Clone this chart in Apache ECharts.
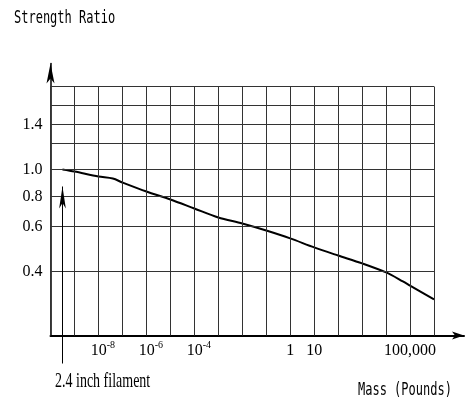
<!DOCTYPE html>
<html><head><meta charset="utf-8">
<script src="https://cdn.jsdelivr.net/npm/echarts@6/dist/echarts.min.js"></script>
<style>html,body{margin:0;padding:0;background:#fff}#c{width:471px;height:398px}</style>
</head><body><div id="c"></div>
<script>
// ---- data ----
const massExponents  = [-9.5, -9, -8, -7.4, -7, -6, -5, -4, -3, -2, -1, 0, 1, 2, 3, 4, 4.7, 5, 6];
const strengthRatios = [1.0, 0.985, 0.948, 0.933, 0.904, 0.837, 0.78, 0.72, 0.66, 0.62, 0.582, 0.547, 0.507, 0.471, 0.436, 0.397, 0.369, 0.356, 0.313];
const xTickExponents = [-8, -6, -4, 0, 1, 5];
const xTickLabels    = ['10^-8', '10^-6', '10^-4', '1', '10', '100,000'];
const yLabelRatios   = [1.4, 1.0, 0.8, 0.6, 0.4];
const yGridRatios    = [0.4, 0.6, 0.8, 1.0, 1.2, 1.4, 1.6, 1.8];
const xGridExponents = [-10, -9, -8, -7, -6, -5, -4, -3, -2, -1, 0, 1, 2, 3, 4, 5, 6];
const filamentExponent = -9.5;
const filamentLabel = '2.4 inch filament';

// ---- non-uniform strength-ratio scale of the original chart (ratio -> axis units) ----
const yScaleRatios = [0.2, 0.4, 0.6, 0.8, 1.0, 1.2, 1.4, 1.6, 1.8];
const yScaleUnits  = [0, 64, 109, 139, 166, 192, 211, 230, 249];
function toU(r) {
  const R = yScaleRatios, U = yScaleUnits;
  let i = 0;
  while (i < R.length - 2 && r > R[i + 1]) i++;
  return U[i] + (r - R[i]) / (R[i + 1] - R[i]) * (U[i + 1] - U[i]);
}
const xMin = xGridExponents[0], xGridMax = xGridExponents[xGridExponents.length - 1];
const yTopGrid = toU(yGridRatios[yGridRatios.length - 1]);

const gridLines = [];
xGridExponents.forEach(x => gridLines.push([{coord: [x, 0]}, {coord: [x, yTopGrid]}]));
yGridRatios.forEach(r => gridLines.push([{coord: [xMin, toU(r)]}, {coord: [xGridMax, toU(r)]}]));

const serif = 'Liberation Serif';
const chart = echarts.init(document.getElementById('c'), null, {renderer: 'canvas'});
const markerBase = {
  silent: true, animation: false, label: {show: false},
  emphasis: {disabled: true}
};
chart.setOption({
  backgroundColor: '#fff',
  animation: false,
  grid: {left: 50.5, top: 63.5, right: 7, bottom: 62.5, containLabel: false, outerBoundsMode: 'none'},
  xAxis: {
    type: 'value', min: xMin, max: 7.25,
    axisLine: {show: true, onZero: false, symbol: ['none', 'arrow'], symbolSize: [6, 12], lineStyle: {color: '#000', width: 2}},
    axisTick: {show: false},
    splitLine: {show: false},
    axisLabel: {
      customValues: xTickExponents, margin: 5,
      formatter: v => {
        const t = xTickLabels[xTickExponents.indexOf(v)] || '';
        if (t.indexOf('^') >= 0) { const p = t.split('^'); return '{sp| }{b|' + p[0] + '}{s|' + p[1] + '}'; }
        return '{b|' + t + '}';
      },
      rich: {
        b: {fontFamily: serif, fontSize: 16, lineHeight: 20, color: '#000'},
        s: {fontFamily: serif, fontSize: 10, lineHeight: 12, verticalAlign: 'top', color: '#000'},
        sp: {width: 9, fontSize: 10}
      }
    }
  },
  yAxis: {
    type: 'value', min: 0, max: 272,
    axisLine: {show: true, onZero: false, symbol: ['none', 'arrow'], symbolSize: [6, 20], lineStyle: {color: '#000', width: 1.5}},
    axisTick: {show: false},
    splitLine: {show: false},
    axisLabel: {
      customValues: yLabelRatios.map(toU), margin: 8,
      fontFamily: serif, fontSize: 16, color: '#000',
      formatter: v => {
        const r = yLabelRatios.find(r => Math.abs(toU(r) - v) < 1e-6);
        return r === undefined ? '' : r.toFixed(1);
      }
    }
  },
  graphic: [
    {type: 'text', x: 14, y: 18.5, scaleY: 1.5, silent: true,
     style: {text: 'Strength Ratio', font: '12px "DejaVu Sans Mono"', fill: '#000', verticalAlign: 'middle'}},
    {type: 'text', x: 358, y: 390, scaleY: 1.5, silent: true,
     style: {text: 'Mass (Pounds)', font: '12px "DejaVu Sans Mono"', fill: '#000', verticalAlign: 'middle'}},
    {type: 'text', x: 55, y: 381, scaleY: 1.5, silent: true,
     style: {text: filamentLabel, font: '14px "' + serif + '"', fill: '#000', verticalAlign: 'middle'}}
  ],
  series: [
    {
      type: 'line', name: 'grid', data: [], z: 1, silent: true, clip: false,
      markLine: Object.assign({}, markerBase, {
        symbol: ['none', 'none'],
        lineStyle: {color: '#333', width: 1, type: 'solid'},
        data: gridLines
      })
    },
    {
      type: 'line', name: 'filament', data: [], z: 2, silent: true, clip: false
    },
    {
      type: 'line', name: 'Strength Ratio', z: 3, symbol: 'none', smooth: 0.3,
      lineStyle: {color: '#000', width: 2},
      data: massExponents.map((m, i) => [m, toU(strengthRatios[i])])
    }
  ]
});

// filament marker: vertical pointer at the filament's mass, reaching below the axis to its label
const tipPx = chart.convertToPixel({gridIndex: 0}, [filamentExponent, 149]);
const basePx = chart.convertToPixel({gridIndex: 0}, [filamentExponent, 0]);
chart.setOption({
  series: [{}, {
    markLine: Object.assign({}, markerBase, {
      symbol: ['none', 'arrow'], symbolSize: [5, 22],
      lineStyle: {color: '#000', width: 1, type: 'solid'},
      data: [[{x: tipPx[0], y: basePx[1] + 28}, {x: tipPx[0], y: tipPx[1]}]]
    })
  }, {}]
});
</script></body></html>
